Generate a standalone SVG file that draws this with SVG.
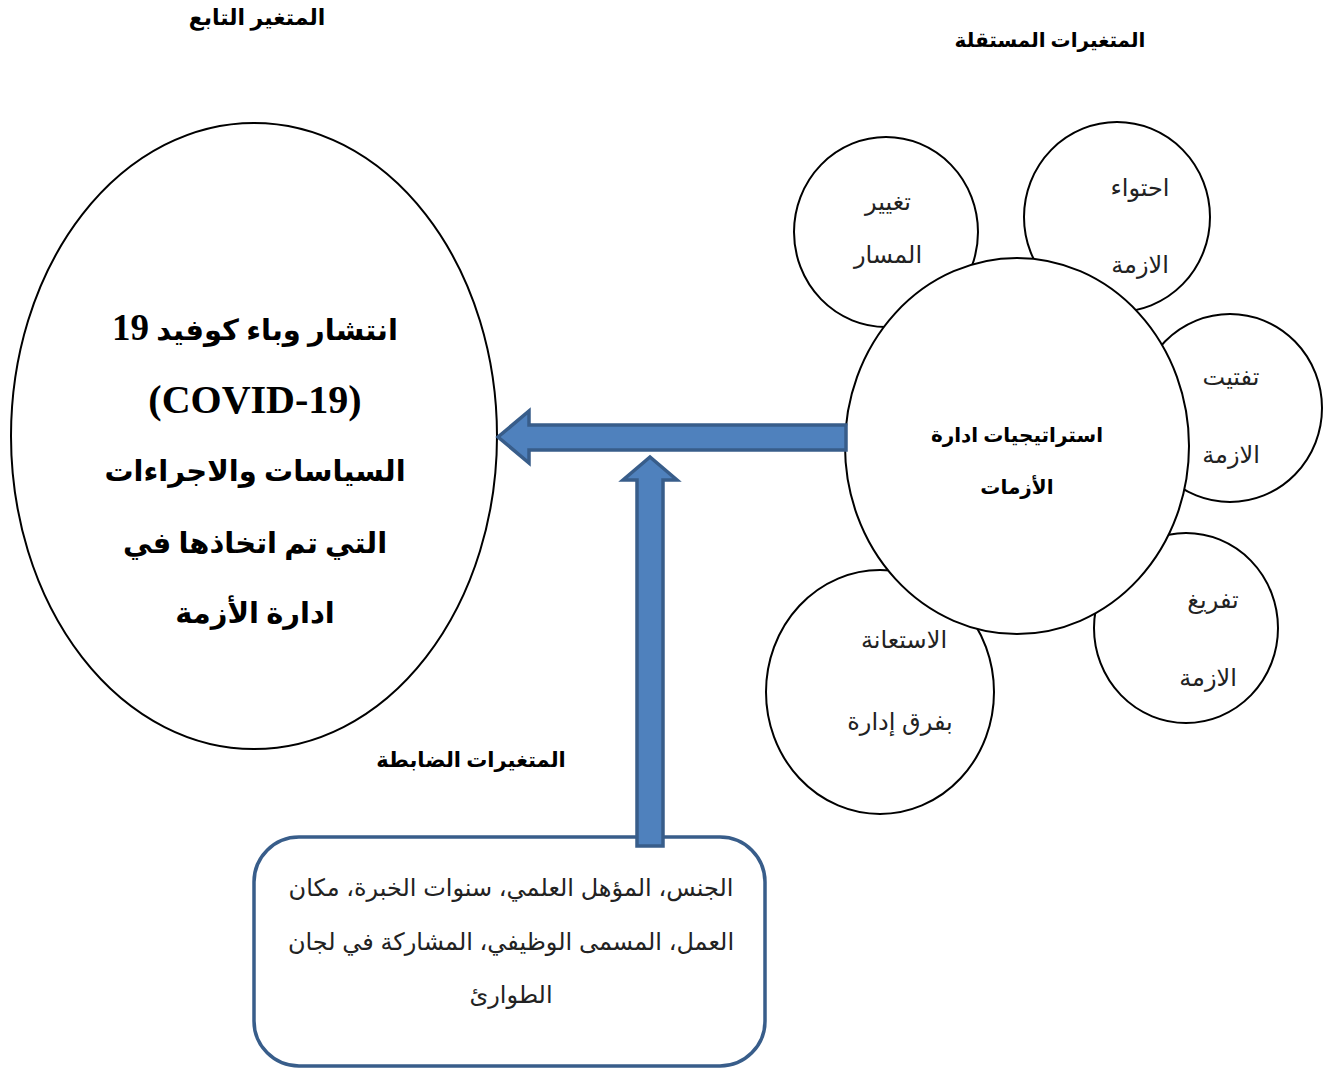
<svg xmlns="http://www.w3.org/2000/svg" width="1327" height="1072" viewBox="0 0 1327 1072">
<style>
.shape{fill:#fff;stroke:#000;stroke-width:2}
.arrow{fill:#4F81BD;stroke:#385D8A;stroke-width:3.5;stroke-linejoin:miter}
.box{fill:#fff;stroke:#385D8A;stroke-width:3.5}
text{font-family:"Liberation Serif","DejaVu Sans",serif;fill:#000;text-anchor:middle}
.h{font-size:20px;font-weight:bold;direction:rtl}
.big{font-size:29px;font-weight:bold}
.ctr{font-size:20px;font-weight:bold;direction:rtl}
.sm{font-family:"Liberation Sans","DejaVu Sans",sans-serif;font-size:24px;fill:#222;direction:rtl}
.bx{font-family:"Liberation Sans","DejaVu Sans",sans-serif;font-size:24px;fill:#222;direction:rtl}
</style>
<rect width="1327" height="1072" fill="#fff"/>
<g id="title-dependent"><text class="h" x="257" y="25" style="font-size:22px">المتغير التابع</text></g>
<g id="title-independent"><text class="h" x="1050" y="47">المتغيرات المستقلة</text></g>
<g id="title-control"><text class="h" x="471" y="767" style="font-size:21px">المتغيرات الضابطة</text></g>

<g id="node-dependent">
<ellipse class="shape" cx="254" cy="436" rx="243" ry="313"/>
<text class="big" x="255" y="340" direction="rtl" style="font-size:29px">انتشار وباء كوفيد <tspan style="font-size:37px">19</tspan></text>
<text class="big" x="255" y="413" direction="ltr" style="font-size:40px">(COVID-19)</text>
<text class="big" x="255" y="481" direction="rtl">السياسات والاجراءات</text>
<text class="big" x="255" y="553" direction="rtl">التي تم اتخاذها في</text>
<text class="big" x="255" y="623" direction="rtl">ادارة الأزمة</text>
</g>

<g id="node-change-course">
<ellipse class="shape" cx="886" cy="232" rx="92" ry="95"/>
<text class="sm" x="888" y="210">تغيير</text>
<text class="sm" x="888" y="263">المسار</text>
</g>
<g id="node-containment">
<ellipse class="shape" cx="1117" cy="217" rx="93" ry="95"/>
<text class="sm" x="1140" y="196">احتواء</text>
<text class="sm" x="1140" y="273">الازمة</text>
</g>
<g id="node-fragmentation">
<ellipse class="shape" cx="1230" cy="408" rx="92" ry="94"/>
<text class="sm" x="1231" y="385">تفتيت</text>
<text class="sm" x="1231" y="463">الازمة</text>
</g>
<g id="node-discharge">
<ellipse class="shape" cx="1186" cy="628" rx="92" ry="95"/>
<text class="sm" x="1213" y="608">تفريغ</text>
<text class="sm" x="1208" y="686">الازمة</text>
</g>
<g id="node-teams">
<ellipse class="shape" cx="880" cy="692" rx="114" ry="122"/>
<text class="sm" x="904" y="648">الاستعانة</text>
<text class="sm" x="900" y="730">بفرق إدارة</text>
</g>
<g id="node-strategies">
<ellipse class="shape" cx="1017" cy="446" rx="172" ry="188"/>
<text class="ctr" x="1017" y="442">استراتيجيات ادارة</text>
<text class="ctr" x="1017" y="494">الأزمات</text>
</g>

<g id="node-control">
<rect class="box" x="254" y="837" width="511" height="229" rx="45" ry="45"/>
<text class="bx" x="511" y="896">الجنس، المؤهل العلمي، سنوات الخبرة، مكان</text>
<text class="bx" x="511" y="950">العمل، المسمى الوظيفي، المشاركة في لجان</text>
<text class="bx" x="511" y="1003">الطوارئ</text>
</g>

<g id="connectors">
<polygon class="arrow" points="846,425 529,425 529,411 498,437 529,463 529,450 846,450"/>
<polygon class="arrow" points="637,846 637,480 623,480 650,457 677,480 663,480 663,846"/>
</g>
</svg>
